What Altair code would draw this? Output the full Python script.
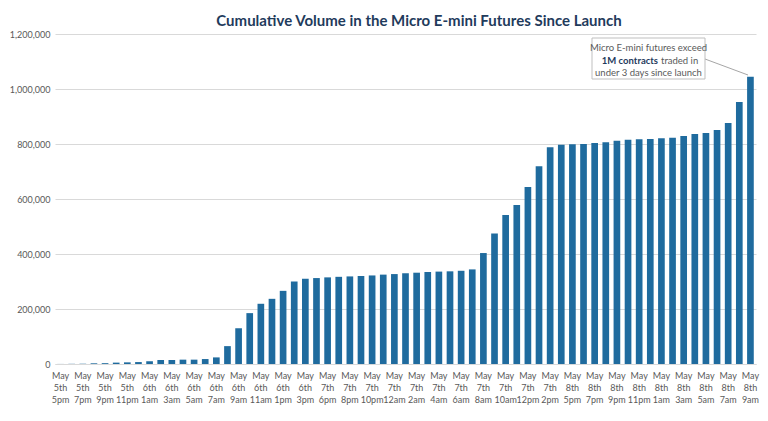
import json
import altair as alt
import pandas as pd

# Axis labels (one per two bars), lines separated by "|"
labels = [
    "May|5th|5pm", "May|5th|7pm", "May|5th|9pm", "May|5th|11pm",
    "May|6th|1am", "May|6th|3am", "May|6th|5am", "May|6th|7am",
    "May|6th|9am", "May|6th|11am", "May|6th|1pm", "May|6th|3pm",
    "May|7th|6pm", "May|7th|8pm", "May|7th|10pm", "May|7th|12am",
    "May|7th|2am", "May|7th|4am", "May|7th|6am", "May|7th|8am",
    "May|7th|10am", "May|7th|12pm", "May|7th|2pm", "May|8th|5pm",
    "May|8th|7pm", "May|8th|9pm", "May|8th|11pm", "May|8th|1am",
    "May|8th|3am", "May|8th|5am", "May|8th|7am", "May|8th|9am",
]

# Cumulative volume per bar (63 bars)
volumes = [
    200, 600, 1200, 2500, 3000, 5000, 6000, 7000, 10000, 14600,
    14600, 15800, 15800, 18000, 24000, 65000, 130000, 185000, 219000, 237000,
    266000, 300000, 310000, 312500, 315000, 317000, 318500, 320000, 322000, 325000,
    327000, 330000, 332000, 334500, 336000, 337000, 339000, 344000, 403500, 475000,
    542000, 578000, 643500, 719000, 788000, 797500, 799000, 800000, 803500, 806000,
    812000, 815700, 817000, 818000, 820500, 823000, 829000, 836000, 840000, 851000,
    876000, 953000, 1045000,
]

title_text = "Cumulative Volume in the Micro E-mini Futures Since Launch"
note_line1 = "Micro E-mini futures exceed"
note_bold = "1M contracts"
note_rest = "traded in"
note_line3 = "under 3 days since launch"

FONT = "Lato"
GREY = "#595959"

df = pd.DataFrame({"idx": list(range(len(volumes))), "volume": volumes})

label_arr = json.dumps([l.split("|") for l in labels])
label_expr = f"datum.value % 2 == 0 ? {label_arr}[datum.value / 2] : ''"

bars = alt.Chart(df).mark_bar(color="#1f6b9e").encode(
    x=alt.X(
        "idx:O",
        title=None,
        scale=alt.Scale(paddingInner=0.4, paddingOuter=0.2),
        axis=alt.Axis(
            labelExpr=label_expr,
            labelAngle=0,
            labelOverlap=False,
            labelFont=FONT,
            labelFontSize=9,
            labelColor=GREY,
            labelLineHeight=12,
            labelBaseline="top",
            labelPadding=7,
            ticks=False,
            domain=True,
            domainColor="#d9d9d9",
            grid=False,
        ),
    ),
    y=alt.Y(
        "volume:Q",
        title=None,
        scale=alt.Scale(domain=[0, 1200000]),
        axis=alt.Axis(
            values=[0, 200000, 400000, 600000, 800000, 1000000, 1200000],
            format=",d",
            labelFont=FONT,
            labelFontSize=9,
            labelColor=GREY,
            labelPadding=5,
            ticks=False,
            domain=False,
            gridColor="#d9d9d9",
            gridWidth=1,
        ),
    ),
)

one = alt.Data(values=[{"a": 1}])

title = alt.Chart(one).mark_text(
    font=FONT, fontSize=15, fontWeight="bold", color="#1f3b5c", baseline="middle", align="center"
).encode(x=alt.value(364), y=alt.value(-13), text=alt.value(title_text))

box = alt.Chart(one).mark_rect(fill="white", stroke="#bfbfbf", strokeWidth=1).encode(
    x=alt.value(537), x2=alt.value(650), y=alt.value(4), y2=alt.value(45)
)

connector = alt.Chart(one).mark_rule(color="#a6a6a6", strokeWidth=1).encode(
    x=alt.value(650), x2=alt.value(693), y=alt.value(25), y2=alt.value(41)
)

note_style = dict(font=FONT, fontSize=9.5, color=GREY, baseline="middle")
t1 = alt.Chart(one).mark_text(align="center", **note_style).encode(
    x=alt.value(593.5), y=alt.value(14), text=alt.value(note_line1)
)
t2a = alt.Chart(one).mark_text(align="right", fontWeight="bold", font=FONT, fontSize=9.5,
                               color="#1f3b5c", baseline="middle").encode(
    x=alt.value(603), y=alt.value(26.5), text=alt.value(note_bold)
)
t2b = alt.Chart(one).mark_text(align="left", **note_style).encode(
    x=alt.value(606), y=alt.value(26.5), text=alt.value(note_rest)
)
t3 = alt.Chart(one).mark_text(align="center", **note_style).encode(
    x=alt.value(593.5), y=alt.value(38.5), text=alt.value(note_line3)
)

chart = alt.layer(bars, connector, box, t1, t2a, t2b, t3, title).properties(
    width=701,
    height=330,
    autosize=alt.AutoSizeParams(type="none"),
    padding={"left": 47, "top": 26, "right": 4, "bottom": 45},
).configure_view(stroke=None)

chart.save("out.html", embed_options={"renderer": "svg", "actions": False})
